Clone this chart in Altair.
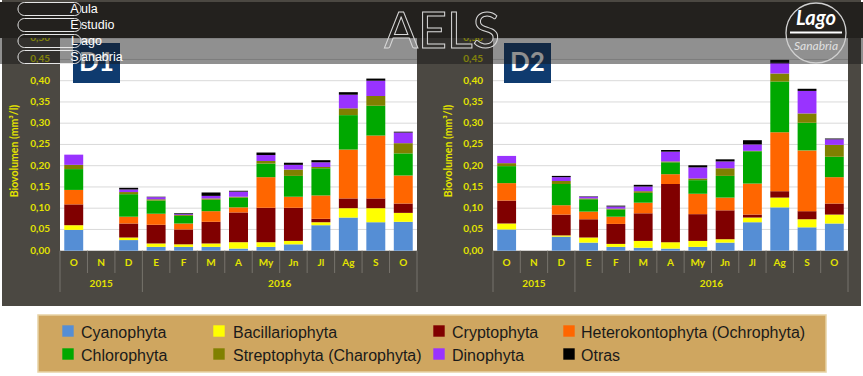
import altair as alt
import pandas as pd

W, H = 863, 376

meses = ["O", "N", "D", "E", "F", "M", "A", "My", "Jn", "Jl", "Ag", "S", "O"]
claves = ["O15", "N15", "D15", "E16", "F16", "M16", "A16", "My16", "Jn16", "Jl16", "Ag16", "S16", "O16"]
anios = ["2015", "2016"]
grupos = ["Cyanophyta", "Bacillariophyta", "Cryptophyta", "Heterokontophyta (Ochrophyta)",
          "Chlorophyta", "Streptophyta (Charophyta)", "Dinophyta", "Otras"]
colores = ["#558ed5", "#ffff00", "#800000", "#ff6600", "#00a800", "#808000", "#9933ff", "#000000"]

# D1 (biovolumen mm3/l)
d1_cyanophyta = [0.049, 0, 0.025, 0.009, 0.009, 0.009, 0.005, 0.009, 0.015, 0.060, 0.078, 0.067, 0.068]
d1_bacillario = [0.011, 0, 0.006, 0.008, 0.006, 0.008, 0.015, 0.011, 0.008, 0.007, 0.022, 0.033, 0.021]
d1_cryptophyta = [0.049, 0, 0.033, 0.044, 0.035, 0.051, 0.070, 0.081, 0.078, 0.008, 0.023, 0.023, 0.022]
d1_heterokonto = [0.034, 0, 0.016, 0.026, 0.014, 0.025, 0.012, 0.072, 0.026, 0.055, 0.115, 0.148, 0.066]
d1_chlorophyta = [0.049, 0, 0.053, 0.031, 0.018, 0.027, 0.023, 0.032, 0.049, 0.064, 0.081, 0.070, 0.052]
d1_streptophyta = [0.010, 0, 0.005, 0.003, 0.002, 0.003, 0.002, 0.006, 0.015, 0.003, 0.016, 0.023, 0.024]
d1_dinophyta = [0.024, 0, 0.006, 0.005, 0.002, 0.006, 0.012, 0.014, 0.011, 0.011, 0.032, 0.036, 0.025]
d1_otras = [0.000, 0, 0.004, 0.001, 0.002, 0.008, 0.002, 0.006, 0.005, 0.005, 0.006, 0.005, 0.002]

# D2
d2_cyanophyta = [0.050, 0, 0.033, 0.019, 0.009, 0.007, 0.005, 0.009, 0.019, 0.067, 0.102, 0.055, 0.064]
d2_bacillario = [0.014, 0, 0.003, 0.012, 0.007, 0.016, 0.015, 0.014, 0.008, 0.011, 0.023, 0.019, 0.021]
d2_cryptophyta = [0.054, 0, 0.049, 0.043, 0.047, 0.065, 0.137, 0.063, 0.068, 0.007, 0.015, 0.019, 0.026]
d2_heterokonto = [0.041, 0, 0.022, 0.018, 0.017, 0.025, 0.023, 0.048, 0.030, 0.073, 0.139, 0.143, 0.062]
d2_chlorophyta = [0.040, 0, 0.050, 0.029, 0.017, 0.023, 0.028, 0.032, 0.051, 0.076, 0.119, 0.065, 0.048]
d2_streptophyta = [0.007, 0, 0.007, 0.002, 0.002, 0.004, 0.002, 0.004, 0.018, 0.001, 0.019, 0.022, 0.028]
d2_dinophyta = [0.017, 0, 0.009, 0.004, 0.005, 0.011, 0.023, 0.026, 0.016, 0.015, 0.025, 0.053, 0.013]
d2_otras = [0.000, 0, 0.003, 0.001, 0.002, 0.004, 0.004, 0.005, 0.005, 0.010, 0.007, 0.005, 0.002]

ticks = [0.00, 0.05, 0.10, 0.15, 0.20, 0.25, 0.30, 0.35, 0.40, 0.45, 0.50]
tick_labels = ["0,00", "0,05", "0,10", "0,15", "0,20", "0,25", "0,30", "0,35", "0,40", "0,45", "0,50"]
y_title = "Biovolumen (mm³/l)"

YELLOW = "#e3e300"
FONT = "Lato"
SEP = "#77736c"
Y0, Y50 = 250.7, 38.2

color_scale = alt.Scale(domain=grupos, range=colores)
one = pd.DataFrame({"z": [0]})


def vrect(x, x2, y, y2, **kw):
    return alt.Chart(one).mark_rect(**kw).encode(
        x=alt.value(x), x2=alt.value(x2), y=alt.value(y), y2=alt.value(y2))


def panel_df(series):
    rows = []
    for gi, (g, vals) in enumerate(zip(grupos, series)):
        for k, m, v in zip(claves, meses, vals):
            rows.append(dict(clave=k, mes=m, grupo=g, orden=gi, valor=v))
    return pd.DataFrame(rows)


def panel(series, x0, x1, title_x):
    df = panel_df(series)
    sx = alt.Scale(domain=claves, range=[x0, x1], paddingInner=0, paddingOuter=0)
    sy = alt.Scale(domain=[0, 0.5], range=[Y0, Y50], nice=False)

    def X(**kw):
        return alt.X("clave:N", scale=sx, axis=None, **kw)

    tdf = pd.DataFrame({"tick": ticks, "label": tick_labels})
    mdf = pd.DataFrame({"clave": claves, "mes": meses})

    area = vrect(x0, x1, 20, Y0, color="white")
    grid = alt.Chart(tdf).transform_filter("datum.tick > 0").mark_rule(
        color="#d9d9d9", strokeWidth=1).encode(
        y=alt.Y("tick:Q", scale=sy, axis=None), x=alt.value(x0), x2=alt.value(x1))
    bars = alt.Chart(df).mark_bar(width=alt.RelativeBandSize(0.69)).encode(
        x=X(),
        y=alt.Y("valor:Q", scale=sy, axis=None, stack="zero"),
        color=alt.Color("grupo:N", scale=color_scale, legend=None),
        order=alt.Order("orden:Q", sort="ascending"))
    ylab = alt.Chart(tdf).mark_text(
        align="right", baseline="middle", font=FONT, fontWeight="bold",
        fontSize=10, color=YELLOW).encode(
        y=alt.Y("tick:Q", scale=sy, axis=None), x=alt.value(x0 - 10), text="label:N")
    ytit = alt.Chart(one).mark_text(
        angle=270, align="center", baseline="middle", font=FONT, fontWeight="bold",
        fontSize=10.5, color=YELLOW, text=y_title).encode(
        x=alt.value(title_x), y=alt.value(151))
    mlab = alt.Chart(mdf).mark_text(
        align="center", baseline="middle", font=FONT, fontWeight="bold",
        fontSize=10, color=YELLOW).encode(x=X(), y=alt.value(263), text="mes:N")
    short_df = mdf[~mdf["clave"].isin([claves[0], claves[3]])]
    long_df = mdf[mdf["clave"].isin([claves[0], claves[3]])]
    sep_s = alt.Chart(short_df).mark_rule(color=SEP, strokeWidth=1).encode(
        x=X(bandPosition=0), y=alt.value(Y0), y2=alt.value(273))
    sep_l = alt.Chart(long_df).mark_rule(color=SEP, strokeWidth=1).encode(
        x=X(bandPosition=0), y=alt.value(Y0), y2=alt.value(292))
    sep_e = alt.Chart(mdf.tail(1)).mark_rule(color=SEP, strokeWidth=1).encode(
        x=X(bandPosition=1), y=alt.value(Y0), y2=alt.value(292))
    ytxt = dict(align="center", baseline="middle", font=FONT, fontWeight="bold",
                fontSize=10, color=YELLOW)
    y15 = alt.Chart(pd.DataFrame({"clave": [claves[1]], "anio": [anios[0]]})).mark_text(
        **ytxt).encode(x=X(bandPosition=0.5), y=alt.value(284), text="anio:N")
    y16 = alt.Chart(pd.DataFrame({"clave": [claves[8]], "anio": [anios[1]]})).mark_text(
        **ytxt).encode(x=X(bandPosition=0), y=alt.value(284), text="anio:N")
    return alt.layer(area, grid, bars, ylab, ytit, mlab, sep_s, sep_l, sep_e, y15, y16)


p1 = panel([d1_cyanophyta, d1_bacillario, d1_cryptophyta, d1_heterokonto,
            d1_chlorophyta, d1_streptophyta, d1_dinophyta, d1_otras], 60, 417, 15)
p2 = panel([d2_cyanophyta, d2_bacillario, d2_cryptophyta, d2_heterokonto,
            d2_chlorophyta, d2_streptophyta, d2_dinophyta, d2_otras], 493, 848, 449)

bg = vrect(2, 861, 0, 306, color="#4b4842")


def dbox(x0, label):
    box = vrect(x0, x0 + 47, 43, 83, color="#0f3b6f")
    txt = alt.Chart(one).mark_text(
        font=FONT, fontWeight="bold", fontSize=26, color="white", text=label,
        align="center", baseline="middle").encode(x=alt.value(x0 + 23.5), y=alt.value(63))
    return box + txt


boxes = dbox(73, "D1") + dbox(504, "D2")

head_dark = vrect(0, W, 2, 38, color="#23211e")
head_band = vrect(0, W, 38, 64, color="#161616", opacity=0.48)

# left logo
logo_df = pd.DataFrame({
    "letra": ["A", "E", "L", "S"],
    "resto": ["ula", "studio", "ago", "anabria"],
    "yc": [9, 25, 41, 57],
})
logo_df["yt"] = logo_df["yc"] - 6.5
logo_df["yb"] = logo_df["yc"] + 6.5
pills = alt.Chart(logo_df).mark_rect(
    cornerRadius=6.5, fillOpacity=0, stroke="#e6e6e6", strokeWidth=1).encode(
    x=alt.value(18), x2=alt.value(81),
    y=alt.Y("yt:Q", scale=None, axis=None), y2="yb:Q")
letras = alt.Chart(logo_df).mark_text(
    font="Liberation Sans", fontSize=12.5, color="white", align="center",
    baseline="middle").encode(
    x=alt.value(74.5), y=alt.Y("yc:Q", scale=None, axis=None), text="letra:N")
restos = alt.Chart(logo_df).mark_text(
    font="Liberation Sans", fontSize=12.5, color="white", align="left",
    baseline="middle").encode(
    x=alt.value(81), y=alt.Y("yc:Q", scale=None, axis=None), text="resto:N")

aels = alt.Chart(one).mark_text(
    font=FONT, fontSize=50, fillOpacity=0, stroke="#d8d8d8", strokeWidth=1,
    align="center", baseline="middle", text="AELS").encode(
    x=alt.value(442), y=alt.value(33))

circ = alt.Chart(one).mark_point(
    shape="circle", size=3600, filled=False, stroke="#d0d0d0", strokeWidth=1.3,
    opacity=1).encode(x=alt.value(816), y=alt.value(33))
lago = alt.Chart(one).mark_text(
    font=FONT, fontStyle="italic", fontWeight="bold", fontSize=20, color="white",
    align="center", baseline="middle", text="Lago").encode(x=alt.value(816), y=alt.value(19))
lago_line = vrect(790, 842, 31.5, 33.5, color="white")
sanabria = alt.Chart(one).mark_text(
    font=FONT, fontStyle="italic", fontSize=12, color="#e0e0e0",
    align="center", baseline="middle", text="Sanabria").encode(x=alt.value(816), y=alt.value(46))

# legend
leg_box = vrect(38, 826, 315, 372, color="#cfa660", stroke="#e8d2a4", strokeWidth=1.5)
sw_x = [62, 213, 433, 563]
tx_x = [81, 233, 452, 581]
row_y = [333, 356]
leg_df = pd.DataFrame({
    "grupo": grupos,
    "sx": [sw_x[i % 4] + 6 for i in range(len(grupos))],
    "tx": [tx_x[i % 4] for i in range(len(grupos))],
    "ty": [row_y[i // 4] for i in range(len(grupos))],
})
leg_df["sy"] = leg_df["ty"] - 2
leg_sw = alt.Chart(leg_df).mark_square(size=130, opacity=1).encode(
    x=alt.X("sx:Q", scale=None, axis=None), y=alt.Y("sy:Q", scale=None, axis=None),
    color=alt.Color("grupo:N", scale=color_scale, legend=None))
leg_tx = alt.Chart(leg_df).mark_text(
    font="Liberation Sans", fontSize=16, color="#1a1a1a", align="left",
    baseline="middle").encode(
    x=alt.X("tx:Q", scale=None, axis=None), y=alt.Y("ty:Q", scale=None, axis=None),
    text="grupo:N")

chart = alt.layer(
    bg, p1, p2, boxes, head_dark, head_band, pills, letras, restos, aels,
    circ, lago, lago_line, sanabria, leg_box, leg_sw, leg_tx
).resolve_scale(x="independent", y="independent").properties(
    width=W, height=H, padding=0,
    autosize=alt.AutoSizeParams(type="none"), background="white"
).configure_view(strokeWidth=0)

chart.save("out.html", embed_options={"renderer": "svg", "actions": False})
